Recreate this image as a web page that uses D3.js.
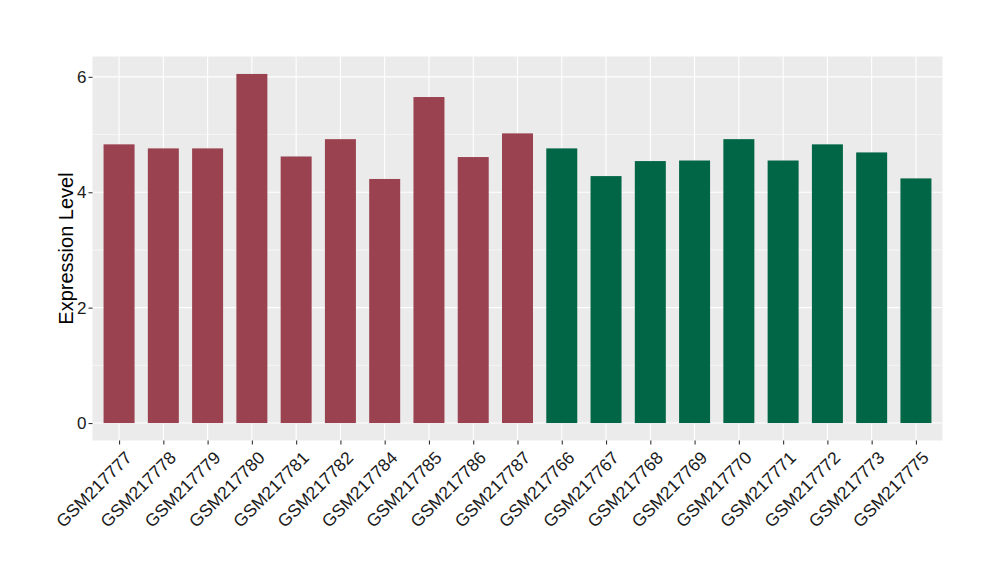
<!DOCTYPE html>
<html><head><meta charset="utf-8">
<script src="https://cdn.jsdelivr.net/npm/d3@7"></script>
<style>body{margin:0;background:#fff}svg{display:block}</style>
</head><body>
<svg id="chart" width="1000" height="580"></svg>
<script>
const categories = ["GSM217777","GSM217778","GSM217779","GSM217780","GSM217781","GSM217782","GSM217784","GSM217785","GSM217786","GSM217787","GSM217766","GSM217767","GSM217768","GSM217769","GSM217770","GSM217771","GSM217772","GSM217773","GSM217775"];
const values = [4.83,4.76,4.76,6.05,4.62,4.92,4.23,5.65,4.61,5.02,4.76,4.28,4.54,4.55,4.92,4.55,4.83,4.69,4.24];
const groups = ["A","A","A","A","A","A","A","A","A","A","B","B","B","B","B","B","B","B","B"];
const groupColors = {A:"#9a4250", B:"#006645"};
const yTicks = [0,2,4,6];
const yMinor = [1,3,5];

const svg = d3.select("#chart");
const L = 92.5, R = 942.5, T = 56.5, B = 440.5;
const ymax = d3.max(values);
const pad = ymax*0.05;
const y = d3.scaleLinear().domain([-pad, ymax+pad]).range([B, T]);
const x = d3.scalePoint().domain(categories).range([L, R]).padding(0.6);
const bw = x.step()*0.7;
const FONT = "'Liberation Sans', Arial, sans-serif";

svg.append("rect").attr("x",L).attr("y",T).attr("width",R-L).attr("height",B-T).attr("fill","#ebebeb");
const g = svg.append("g");
g.selectAll(".minor").data(yMinor).join("line")
  .attr("x1",L).attr("x2",R).attr("y1",d=>y(d)).attr("y2",d=>y(d))
  .attr("stroke","#fff").attr("stroke-width",0.55);
g.selectAll(".major").data(yTicks).join("line")
  .attr("x1",L).attr("x2",R).attr("y1",d=>y(d)).attr("y2",d=>y(d))
  .attr("stroke","#fff").attr("stroke-width",1.1);
g.selectAll(".vmajor").data(categories).join("line")
  .attr("y1",T).attr("y2",B).attr("x1",d=>x(d)).attr("x2",d=>x(d))
  .attr("stroke","#fff").attr("stroke-width",1.1);

svg.selectAll(".bar").data(categories).join("rect")
  .attr("x",d=>x(d)-bw/2).attr("width",bw)
  .attr("y",(d,i)=>y(values[i])).attr("height",(d,i)=>y(0)-y(values[i]))
  .attr("fill",(d,i)=>groupColors[groups[i]]);

// y axis
const ya = svg.append("g").attr("transform",`translate(${L},0)`)
  .call(d3.axisLeft(y).tickValues(yTicks).tickSize(4).tickPadding(2).tickFormat(d3.format("d")));
ya.select(".domain").remove();
ya.selectAll(".tick line").attr("stroke","#333").attr("stroke-width",1.1);
ya.selectAll(".tick text").attr("fill","#1a1a1a").style("font-family",FONT).style("font-size","17px");

// x axis
const xa = svg.append("g").attr("transform",`translate(0,${B})`)
  .call(d3.axisBottom(x).tickSize(4).tickPadding(3));
xa.select(".domain").remove();
xa.selectAll(".tick line").attr("stroke","#333").attr("stroke-width",1.1);
xa.selectAll(".tick text")
  .attr("fill","#1a1a1a").style("font-family",FONT).style("font-size","17.5px")
  .attr("text-anchor","end").attr("dy","0.72em").attr("y",0)
  .attr("transform","translate(4.5,9.5) rotate(-45)");

svg.append("text").attr("transform",`translate(73,${(T+B)/2}) rotate(-90)`)
  .attr("text-anchor","middle").style("font-family",FONT).style("font-size","20px")
  .attr("fill","#000").text("Expression Level");
</script>
</body></html>
